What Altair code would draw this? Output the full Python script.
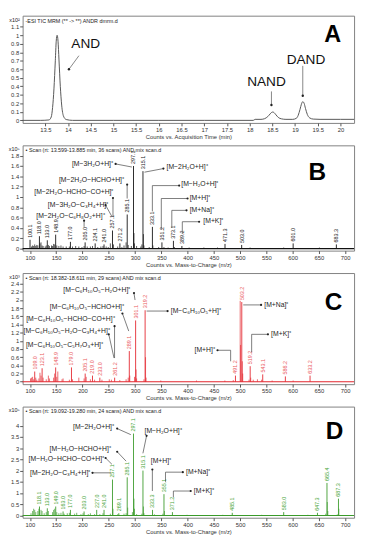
import altair as alt
import pandas as pd

FONT = "Liberation Sans"
W = 340

# ---------------- Panel A : TIC chromatogram ----------------
a_time = [13.00, 13.40, 13.58, 13.63, 13.66, 13.69, 13.72, 13.74, 13.76, 13.78, 13.80, 13.83,
          13.86, 13.90, 13.96, 14.10, 15.00, 16.00, 17.00, 18.08, 18.12, 18.25, 18.33, 18.40,
          18.45, 18.48, 18.51, 18.54, 18.58, 18.63, 18.70, 18.80, 18.95, 19.03, 19.07, 19.11,
          19.14, 19.17, 19.20, 19.23, 19.27, 19.32, 19.40, 19.55, 20.00, 20.30]
a_counts = [0.0, 0.0, 0.005, 0.04, 0.15, 0.37, 0.70, 0.93, 1.00, 0.93, 0.72, 0.40,
            0.18, 0.05, 0.01, 0.0, 0.0, 0.0, 0.0, 0.0, 0.012, 0.012, 0.02, 0.045,
            0.075, 0.092, 0.098, 0.09, 0.065, 0.035, 0.018, 0.012, 0.012, 0.025, 0.06, 0.13,
            0.19, 0.22, 0.20, 0.14, 0.07, 0.03, 0.015, 0.012, 0.012, 0.012]
a_xticks = [13.5, 14.0, 14.5, 15.0, 15.5, 16.0, 16.5, 17.0, 17.5, 18.0, 18.5, 19.0, 19.5, 20.0]
a_yticks = [0, 0.1, 0.2, 0.3, 0.4, 0.5, 0.6, 0.7, 0.8, 0.9, 1.0, 1.1]
a_names = ["AND", "NAND", "DAND"]
a_name_x = [14.39, 18.37, 19.24]
a_name_y = [0.90, 0.45, 0.71]
a_arr_x1 = [14.24, 18.48, 19.17]
a_arr_y1 = [0.76, 0.34, 0.64]
a_arr_x2 = [14.02, 18.48, 19.17]
a_arr_y2 = [0.60, 0.18, 0.29]

# ---------------- Panel B : AND scan ----------------
b_mz = [100.1, 118.0, 133.0, 148.9, 177.0, 205.0, 224.1, 241.0, 257.1, 271.2, 285.1, 297.1,
        315.1, 333.1, 351.2, 373.1, 389.2, 471.3, 503.0, 601.0, 683.3]
b_int = [0.17, 0.24, 0.16, 0.27, 0.13, 0.12, 0.10, 0.08, 0.35, 0.10, 0.66, 1.60,
         1.50, 0.42, 0.12, 0.15, 0.05, 0.09, 0.07, 0.10, 0.08]
b_minor_mz = [103, 105, 107, 109, 111, 113, 115, 119, 121, 123, 125, 129, 131, 135, 137, 141,
              143, 145, 147, 151, 155, 159, 163, 169, 175, 181, 187, 193, 199, 203, 209, 215,
              219, 229, 235, 239, 245, 249, 253, 259, 267, 275, 279, 283, 287, 293, 298, 299,
              303, 311, 313, 316, 317, 327, 334, 345, 355, 363, 375, 403, 431, 457, 519, 583, 651]
b_minor_int = [0.04, 0.06, 0.05, 0.08, 0.05, 0.07, 0.06, 0.10, 0.12, 0.06, 0.05, 0.04, 0.06, 0.07, 0.05, 0.06,
               0.05, 0.09, 0.08, 0.06, 0.05, 0.06, 0.04, 0.04, 0.04, 0.04, 0.05, 0.04, 0.03, 0.05, 0.04, 0.04,
               0.05, 0.03, 0.04, 0.05, 0.04, 0.03, 0.10, 0.08, 0.04, 0.03, 0.06, 0.12, 0.07, 0.05, 0.30, 0.10,
               0.05, 0.04, 0.08, 0.28, 0.06, 0.03, 0.06, 0.03, 0.03, 0.02, 0.03, 0.02, 0.02, 0.02, 0.02, 0.02, 0.02]
mz_xticks = [100, 150, 200, 250, 300, 350, 400, 450, 500, 550, 600, 650, 700]
b_yticks = [0, 0.2, 0.4, 0.6, 0.8, 1.0, 1.2, 1.4, 1.6, 1.8]
b_ann = ["[M−3H₂O+H]⁺", "[M−2H₂O+H]⁺", "[M−2H₂O−HCHO+H]⁺", "[M−2H₂O−HCHO−CO+H]⁺",
         "[M−3H₂O−C₃H₄+H]⁺", "[M−2H₂O−C₆H₈O₂+H]⁺", "[M−H₂O+H]⁺", "[M+H]⁺", "[M+Na]⁺", "[M+K]⁺"]
b_ann_x = [258, 360, 279, 259, 249, 242, 388, 404, 404, 430]
b_ann_y = [1.63, 1.58, 1.33, 1.09, 0.85, 0.63, 1.25, 0.98, 0.75, 0.54]
b_ann_al = ["right", "left", "right", "right", "right", "right", "left", "left", "left", "left"]
b_seg_x1 = [294, 318, 285, 258, 256, 203, 333, 333, 350, 350, 370, 370, 390, 390]
b_seg_y1 = [1.58, 1.48, 0.97, 0.62, 0.62, 0.42, 0.72, 1.22, 0.36, 0.97, 0.40, 0.74, 0.28, 0.52]
b_seg_x2 = [263, 354, 285, 258, 244, 203, 333, 384, 350, 400, 370, 398, 390, 422]
b_seg_y2 = [1.64, 1.55, 1.24, 0.98, 0.84, 0.54, 1.22, 1.22, 0.97, 0.97, 0.74, 0.74, 0.52, 0.52]
b_dot_x = [263, 354, 285, 258, 244, 203, 384, 400, 398, 422]
b_dot_y = [1.64, 1.55, 1.24, 0.98, 0.84, 0.54, 1.22, 0.97, 0.74, 0.52]

# ---------------- Panel C : NAND scan ----------------
c_mz = [109.0, 123.1, 148.9, 179.0, 205.1, 219.0, 233.0, 261.2, 289.1, 301.1, 319.2,
        491.2, 503.2, 519.2, 543.1, 586.2, 633.2]
c_int = [0.25, 0.33, 0.35, 0.35, 0.20, 0.15, 0.10, 0.10, 0.75, 1.50, 1.75,
         0.15, 1.95, 0.38, 0.18, 0.13, 0.15]
c_minor_mz = [101, 103, 105, 107, 111, 113, 117, 119, 121, 125, 131, 135, 137, 145, 147, 151,
              153, 161, 163, 175, 181, 193, 203, 207, 215, 223, 237, 251, 255, 271, 283, 287,
              290, 299, 302, 303, 317, 320, 321, 349, 417, 471, 487, 500.2, 501, 504.2, 505,
              517, 520.2, 525, 533, 541, 561, 601]
c_minor_int = [0.08, 0.10, 0.12, 0.06, 0.10, 0.05, 0.08, 0.22, 0.15, 0.10, 0.06, 0.15, 0.08, 0.10, 0.20, 0.12,
               0.25, 0.06, 0.08, 0.05, 0.06, 0.10, 0.08, 0.12, 0.06, 0.05, 0.05, 0.06, 0.05, 0.04, 0.06, 0.10,
               0.15, 0.12, 0.30, 0.08, 0.06, 0.60, 0.10, 0.03, 0.03, 0.03, 0.04, 1.98, 0.90, 0.50, 0.20,
               0.05, 0.10, 0.05, 0.06, 0.05, 0.03, 0.03]
c_yticks = [0, 0.2, 0.4, 0.6, 0.8, 1.0, 1.2, 1.4, 1.6, 1.8, 2.0, 2.2, 2.4]
c_ann = ["[M−C₆H₁₀O₅−H₂O+H]⁺", "[M−C₆H₁₀O₅−HCHO+H]⁺", "[M−C₆H₁₀O₅−HCHO−CO+H]⁺",
         "[M−C₆H₁₀O₅−H₂O−C₃H₄+H]⁺", "[M−C₆H₁₀O₅−C₅H₇O₃+H]⁺", "[M−C₆H₁₀O₅+H]⁺",
         "[M+Na]⁺", "[M+K]⁺", "[M+H]⁺"]
c_ann_x = [291, 279, 261, 252, 239, 368, 546, 559, 452]
c_ann_y = [2.25, 1.84, 1.53, 1.24, 0.89, 1.73, 1.88, 1.16, 0.77]
c_ann_al = ["right", "right", "right", "right", "right", "left", "left", "left", "right"]
c_seg_x1 = [300, 288, 261, 260, 322, 506, 522, 522, 457, 482]
c_seg_y1 = [2.00, 1.24, 0.58, 0.58, 1.73, 1.88, 0.72, 1.16, 0.77, 0.77]
c_seg_x2 = [298, 276, 261, 250, 362, 540, 522, 553, 482, 482]
c_seg_y2 = [2.17, 1.67, 1.36, 1.16, 1.73, 1.88, 1.16, 1.16, 0.77, 0.50]
c_dot_x = [298, 276, 261, 250, 362, 540, 553, 457]
c_dot_y = [2.17, 1.67, 1.36, 1.16, 1.73, 1.88, 1.16, 0.77]

# ---------------- Panel D : DAND scan ----------------
d_mz = [118.1, 133.0, 149.0, 163.0, 177.0, 203.0, 227.0, 241.0, 257.1, 269.1, 285.1, 297.1,
        315.1, 333.3, 355.1, 371.2, 485.1, 583.0, 647.3, 665.4, 687.3]
d_int = [0.40, 0.32, 0.40, 0.18, 0.25, 0.18, 0.25, 0.25, 1.60, 0.10, 1.70, 3.65,
         2.00, 0.25, 0.95, 0.15, 0.12, 0.15, 0.12, 1.45, 0.75]
d_minor_mz = [102, 105, 107, 109, 111, 115, 117, 121, 123, 127, 131, 135, 143, 145, 147, 151,
              155, 159, 165, 171, 175, 185, 189, 197, 201, 211, 215, 223, 233, 239, 253, 258,
              267, 279, 283, 286, 295, 298, 299, 303, 313, 316, 317, 337, 353, 356, 399, 467,
              541, 629, 663, 666, 667, 685, 688]
d_minor_int = [0.10, 0.20, 0.30, 0.25, 0.15, 0.20, 0.30, 0.25, 0.20, 0.10, 0.15, 0.20, 0.15, 0.25, 0.30, 0.15,
               0.10, 0.12, 0.08, 0.10, 0.12, 0.08, 0.12, 0.06, 0.10, 0.06, 0.10, 0.06, 0.06, 0.10, 0.08, 0.30,
               0.06, 0.08, 0.10, 0.35, 0.15, 0.75, 0.30, 0.06, 0.08, 0.40, 0.10, 0.05, 0.08, 0.20, 0.03, 0.03,
               0.03, 0.03, 0.08, 0.60, 0.20, 0.05, 0.30]
d_yticks = [0, 0.5, 1.0, 1.5, 2.0, 2.5, 3.0, 3.5, 4.0]
d_ann = ["[M−2H₂O+H]⁺", "[M−H₂O+H]⁺", "[M−H₂O−HCHO+H]⁺", "[M−H₂O−HCHO−CO+H]⁺",
         "[M−2H₂O−C₃H₄+H]⁺", "[M+H]⁺", "[M+Na]⁺", "[M+K]⁺"]
d_ann_x = [260, 318, 254, 241, 215, 330, 397, 412]
d_ann_y = [3.92, 3.75, 2.98, 2.50, 1.90, 2.42, 1.93, 1.09]
d_ann_al = ["right", "left", "right", "right", "right", "left", "left", "left"]
d_seg_x1 = [292, 315, 283, 256, 254, 333, 358, 358, 373, 373]
d_seg_y1 = [3.60, 2.77, 2.42, 2.28, 1.90, 1.09, 1.50, 1.93, 0.81, 1.09]
d_seg_x2 = [266, 322, 266, 244, 219, 333, 358, 391, 373, 406]
d_seg_y2 = [3.87, 3.55, 2.84, 2.56, 1.90, 2.05, 1.93, 1.93, 1.09, 1.09]
d_dot_x = [266, 322, 266, 244, 219, 333, 391, 406]
d_dot_y = [3.87, 3.55, 2.84, 2.56, 1.90, 2.05, 1.93, 1.09]

MZ_DOM = [86, 717]
TXT = "#222222"


def xenc(field, dom, ticks, title, fmt):
    return alt.X(field, type="quantitative",
                 scale=alt.Scale(domain=dom, nice=False, zero=False),
                 axis=alt.Axis(values=ticks, title=title, format=fmt, grid=False))


def yenc(field, dom, ticks):
    return alt.Y(field, type="quantitative",
                 scale=alt.Scale(domain=dom, nice=False, zero=False),
                 axis=alt.Axis(values=ticks, title=None, format="~g", grid=False))


def overlay_text(txt, x, y, size, align="left"):
    return alt.Chart(pd.DataFrame({"t": [txt]})).mark_text(
        align=align, baseline="middle", fontSize=size, font=FONT, color=TXT, fill=TXT
    ).encode(text="t:N", x=alt.value(x), y=alt.value(y))


def spectrum(mz, inten, minor_mz, minor_int, ydom, yticks, color, lab_color,
             ann, ann_x, ann_y, ann_al, sx1, sy1, sx2, sy2, dx_, dy_,
             header, mult, letter, letter_x, letter_y, h):
    X = lambda f: xenc(f, MZ_DOM, mz_xticks, "Counts vs. Mass-to-Charge (m/z)", "d")
    Y = lambda f: yenc(f, ydom, yticks)
    peaks = pd.DataFrame({"mz": mz, "inten": inten, "lab": [f"{v:.1f}" for v in mz]})
    minor = pd.DataFrame({"mz": minor_mz, "inten": minor_int})
    base = alt.Chart(pd.DataFrame({"mz": [MZ_DOM[0], MZ_DOM[1]], "inten": [0, 0]})).mark_line(
        color=color, strokeWidth=1.2).encode(x=X("mz"), y=Y("inten"))
    minor_r = alt.Chart(minor).mark_rule(color=color, strokeWidth=0.7).encode(
        x=X("mz"), y=Y("inten"), y2=alt.datum(0))
    major_r = alt.Chart(peaks).mark_rule(color=color, strokeWidth=0.9).encode(
        x=X("mz"), y=Y("inten"), y2=alt.datum(0))
    labs = alt.Chart(peaks).mark_text(angle=270, align="left", baseline="middle", dx=2,
                                      fontSize=5.5, font=FONT, color=lab_color, fill=lab_color).encode(
        x=X("mz"), y=Y("inten"), text="lab:N")
    segs = alt.Chart(pd.DataFrame({"x1": sx1, "y1": sy1, "x2": sx2, "y2": sy2})).mark_rule(
        color="#444444", strokeWidth=0.7).encode(x=X("x1"), y=Y("y1"), x2="x2:Q", y2="y2:Q")
    dots = alt.Chart(pd.DataFrame({"x": dx_, "y": dy_})).mark_circle(
        color=TXT, fill=TXT, size=5, opacity=1).encode(x=X("x"), y=Y("y"))
    adf = pd.DataFrame({"t": ann, "x": ann_x, "y": ann_y, "al": ann_al})
    texts = []
    for al in ["left", "right"]:
        texts.append(alt.Chart(adf).transform_filter(alt.datum.al == al).mark_text(
            align=al, baseline="middle", fontSize=7, font=FONT, color=TXT, fill=TXT).encode(
            x=X("x"), y=Y("y"), text="t:N"))
    let = alt.Chart(pd.DataFrame({"t": [letter], "x": [letter_x], "y": [letter_y]})).mark_text(
        align="center", baseline="middle", fontSize=25, fontWeight="bold", font=FONT,
        color="#000000", fill="#000000"
    ).encode(x=X("x"), y=Y("y"), text="t:N")
    hdr = overlay_text(header, 3, 5, 5.5)
    mul = overlay_text(mult, -3, 4, 5.5, align="right")
    return alt.layer(base, minor_r, major_r, labs, segs, dots, *texts, let, hdr, mul).properties(
        width=W, height=h)


# ---- Panel A chart ----
AX = lambda f: xenc(f, [13.0, 20.3], a_xticks, "Counts vs. Acquisition Time (min)", "~g")
AY = lambda f: yenc(f, [-0.03, 1.23], a_yticks)
a_line = alt.Chart(pd.DataFrame({"t": a_time, "c": a_counts})).mark_line(
    color="#555555", strokeWidth=1, interpolate="monotone").encode(x=AX("t"), y=AY("c"))
a_txt = alt.Chart(pd.DataFrame({"n": a_names, "x": a_name_x, "y": a_name_y})).mark_text(
    fontSize=14, font=FONT, color="#111111", fill="#111111", align="center", baseline="middle").encode(
    x=AX("x"), y=AY("y"), text="n:N")
a_arr = alt.Chart(pd.DataFrame({"x1": a_arr_x1, "y1": a_arr_y1, "x2": a_arr_x2, "y2": a_arr_y2})).mark_rule(
    color="#666666", strokeWidth=0.8).encode(x=AX("x1"), y=AY("y1"), x2="x2:Q", y2="y2:Q")
a_dot = alt.Chart(pd.DataFrame({"x": a_arr_x2, "y": a_arr_y2})).mark_circle(
    color=TXT, fill=TXT, size=6, opacity=1).encode(x=AX("x"), y=AY("y"))
a_let = alt.Chart(pd.DataFrame({"t": ["A"], "x": [19.83], "y": [1.0]})).mark_text(
    fontSize=24, fontWeight="bold", font=FONT, color="#000000", fill="#000000").encode(
    x=AX("x"), y=AY("y"), text="t:N")
chartA = alt.layer(a_line, a_arr, a_dot, a_txt, a_let,
                   overlay_text("-ESI TIC MRM (** -> **) ANDR dmrm.d", 3, 5, 5.5),
                   overlay_text("x10²", -3, 4, 5.5, align="right")).properties(width=W, height=110)

chartB = spectrum(b_mz, b_int, b_minor_mz, b_minor_int, [-0.04, 2.0], b_yticks, "#111111", "#222222",
                  b_ann, b_ann_x, b_ann_y, b_ann_al, b_seg_x1, b_seg_y1, b_seg_x2, b_seg_y2,
                  b_dot_x, b_dot_y, "• Scan (rt: 13.599-13.885 min, 36 scans) AND mix scan.d",
                  "x10⁵", "B", 647, 1.48, 108)
chartC = spectrum(c_mz, c_int, c_minor_mz, c_minor_int, [-0.06, 2.66], c_yticks, "#e3262e", "#ea5a5e",
                  c_ann, c_ann_x, c_ann_y, c_ann_al, c_seg_x1, c_seg_y1, c_seg_x2, c_seg_y2,
                  c_dot_x, c_dot_y, "• Scan (rt: 18.382-18.611 min, 29 scans) AND mix scan.d",
                  "x10³", "C", 678, 1.95, 114)
chartD = spectrum(d_mz, d_int, d_minor_mz, d_minor_int, [-0.1, 4.85], d_yticks, "#3a9a2a", "#4aa63a",
                  d_ann, d_ann_x, d_ann_y, d_ann_al, d_seg_x1, d_seg_y1, d_seg_x2, d_seg_y2,
                  d_dot_x, d_dot_y, "• Scan (rt: 19.092-19.280 min, 24 scans) AND mix scan.d",
                  "x10⁵", "D", 680, 3.75, 114)

chart = alt.vconcat(chartA, chartB, chartC, chartD, spacing=4).configure_view(
    stroke="#808080", strokeWidth=1
).configure_axis(
    domain=False, ticks=True, tickSize=3, tickColor="#555555", labelColor="#333333",
    labelFontSize=6, labelFont=FONT, titleFont=FONT, titleFontSize=6, titleFontWeight="normal",
    titleColor="#333333", titlePadding=1, labelPadding=1
).properties(padding={"left": 0, "right": 0, "top": 0, "bottom": 0})

chart.save("out.html", embed_options={"renderer": "svg", "actions": False})
